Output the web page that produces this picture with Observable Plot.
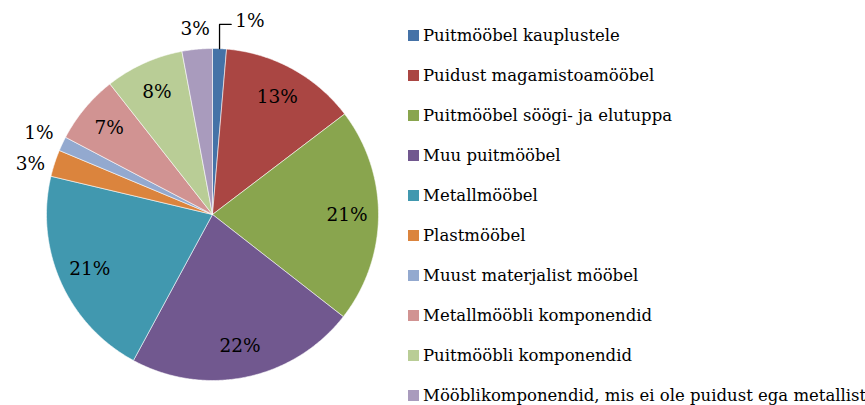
<!DOCTYPE html>
<html>
<head>
<meta charset="utf-8">
<script src="https://cdn.jsdelivr.net/npm/d3@7"></script>
<script src="https://cdn.jsdelivr.net/npm/@observablehq/plot@0.6"></script>
<style>
  html, body { margin: 0; padding: 0; background: #fff; }
  #chart { position: relative; width: 865px; height: 405px; overflow: hidden; }
  #legend { position: absolute; left: 408px; top: 15.5px; font-family: "DejaVu Serif", serif; font-size: 16.5px; color: #000; }
  .row { height: 40px; display: flex; align-items: center; white-space: nowrap; }
  .sw { width: 11px; height: 11px; margin-right: 4px; flex: none; }
</style>
</head>
<body>
<div id="chart"><div id="legend"></div></div>
<script>
const categories = [
  "Puitmööbel kauplustele",
  "Puidust magamistoamööbel",
  "Puitmööbel söögi- ja elutuppa",
  "Muu puitmööbel",
  "Metallmööbel",
  "Plastmööbel",
  "Muust materjalist mööbel",
  "Metallmööbli komponendid",
  "Puitmööbli komponendid",
  "Mööblikomponendid, mis ei ole puidust ega metallist"
];
const values = [1.35, 13.3, 20.9, 22.35, 20.8, 2.6, 1.4, 6.7, 7.65, 2.95];
const labels = ["1%", "13%", "21%", "22%", "21%", "3%", "1%", "7%", "8%", "3%"];
const colors = ["#4572A7", "#AA4643", "#89A54E", "#71588F", "#4198AF", "#DB843D", "#93A9CF", "#D19392", "#B9CD96", "#A99BBD"];

// layout constants (pixels)
const cx = 212, cy = 214, R = 166;
const FONT = "DejaVu Serif";
const GAP = 9, HW = 14, HH = 10, MINSEP = 31;

const total = d3.sum(values);
const slices = [];
const inside = [];
let outside = [];
const leaderLabel = [];
const leader = [];
let acc = 0;
values.forEach((v, i) => {
  const a0 = acc / total * 2 * Math.PI;
  acc += v;
  const a1 = acc / total * 2 * Math.PI;
  const n = Math.max(2, Math.ceil((a1 - a0) / (Math.PI / 360)));
  slices.push({cat: categories[i], x: 0, y: 0});
  for (let k = 0; k <= n; k++) {
    const a = a0 + (a1 - a0) * k / n;
    slices.push({cat: categories[i], x: Math.sin(a), y: Math.cos(a)});
  }
  slices.push({cat: categories[i], x: 0, y: 0});
  const am = (a0 + a1) / 2;
  const s = Math.sin(am), c = Math.cos(am);
  if (v >= 5) {
    inside.push({x: 0.81 * s, y: 0.81 * c, text: labels[i]});
  } else if (i === 0) {
    // label moved to the right with a leader line
    leader.push({x: s, y: c}, {x: s, y: 1.145}, {x: s + 0.07, y: 1.145});
    leaderLabel.push({x: s + 0.095, y: 1.165, text: labels[i]});
  } else {
    const r = (R + GAP + Math.abs(s) * HW + Math.abs(c) * HH) / R;
    outside.push({x: r * s, y: r * c, text: labels[i], left: s < 0});
  }
});
// keep outside labels on the same side apart vertically
[true, false].forEach(side => {
  const grp = outside.filter(d => d.left === side).sort((a, b) => b.y - a.y);
  for (let k = 1; k < grp.length; k++) {
    const minGap = MINSEP / R;
    if (grp[k - 1].y - grp[k].y < minGap) grp[k].y = grp[k - 1].y - minGap;
  }
});

const plot = Plot.plot({
  width: 865,
  height: 405,
  x: {domain: [-1, 1], range: [cx - R, cx + R], axis: null},
  y: {domain: [-1, 1], range: [cy + R, cy - R], axis: null},
  color: {domain: categories, range: colors},
  marks: [
    Plot.line(slices, {x: "x", y: "y", z: "cat", fill: "cat", stroke: "white", strokeWidth: 0.7, strokeOpacity: 0.8, curve: "linear"}),
    Plot.line(leader, {x: "x", y: "y", stroke: "black", strokeWidth: 1.3, curve: "linear"}),
    Plot.text(inside, {x: "x", y: "y", text: "text", fontSize: 18.5, fontFamily: FONT, fill: "black"}),
    Plot.text(outside, {x: "x", y: "y", text: "text", fontSize: 18.5, fontFamily: FONT, fill: "black"}),
    Plot.text(leaderLabel, {x: "x", y: "y", text: "text", fontSize: 18.5, fontFamily: FONT, fill: "black", textAnchor: "start"})
  ]
});
const chart = document.getElementById("chart");
chart.insertBefore(plot, chart.firstChild);

const legend = document.getElementById("legend");
categories.forEach((c, i) => {
  const row = document.createElement("div");
  row.className = "row";
  const sw = document.createElement("span");
  sw.className = "sw";
  sw.style.background = colors[i];
  const t = document.createElement("span");
  t.textContent = c;
  row.appendChild(sw);
  row.appendChild(t);
  legend.appendChild(row);
});
</script>
</body>
</html>
